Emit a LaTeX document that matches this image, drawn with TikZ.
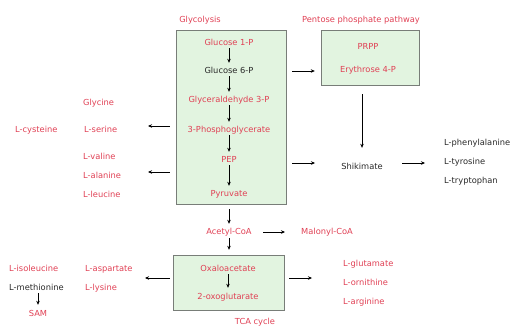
\documentclass[tikz,border=0pt]{standalone}
\usepackage{fontspec}
\setmainfont{DejaVu Sans}
\usetikzlibrary{arrows.meta}
\definecolor{tred}{RGB}{224,64,84}
\definecolor{tblk}{RGB}{40,40,40}
\definecolor{bfill}{RGB}{226,244,224}
\definecolor{bdraw}{RGB}{120,125,120}
\tikzset{
  lbl/.style={inner sep=0pt, text height=6pt, text depth=0pt, font=\fontsize{8.3}{9}\selectfont},
  rd/.style={lbl, text=tred},
  bk/.style={lbl, text=tblk},
  boxx/.style={draw=bdraw, fill=bfill, line width=0.8pt},
  arr/.style={-{Stealth[length=4pt,width=3.5pt]}, line width=0.6pt, draw=black},
}
\begin{document}
\begin{tikzpicture}[x=1pt,y=-1pt]
\useasboundingbox (0,0) rectangle (510,327);
% boxes
\draw[boxx] (176,30) rectangle (286,204);
\node[inner sep=0pt] (gbox) at (231,117) [minimum width=110pt, minimum height=174pt] {};
\draw[boxx] (321,30) rectangle (419,85);
\node[inner sep=0pt] (ppp) at (370,57.5) [minimum width=98pt, minimum height=55pt] {};
\draw[boxx] (173,255) rectangle (284,310);
\node[inner sep=0pt] (tca) at (228.5,282.5) [minimum width=111pt, minimum height=55pt] {};
% titles
\node[rd] (tglyc) at (200,19) {Glycolysis};
\node[rd] (tppp) at (361,19) {Pentose phosphate pathway};
\node[rd] (ttca) at (255,321.5) {TCA cycle};
% glycolysis
\node[rd] (g1p) at (229,42) {Glucose 1-P};
\node[bk] (g6p) at (229,70) {Glucose 6-P};
\node[rd] (gap) at (229,99) {Glyceraldehyde 3-P};
\node[rd] (pga) at (229,129) {3-Phosphoglycerate};
\node[rd] (pep) at (229,159) {PEP};
\node[rd] (pyr) at (229,193) {Pyruvate};
\draw[arr, shorten <=3pt, shorten >=4pt] (g1p) -- (g6p);
\draw[arr, shorten <=3pt, shorten >=4pt] (g6p) -- (gap);
\draw[arr, shorten <=3pt, shorten >=4pt] (gap) -- (pga);
\draw[arr, shorten <=3pt, shorten >=4pt] (pga) -- (pep);
\draw[arr, shorten <=3pt, shorten >=4pt] (pep) -- (pyr);
% PPP
\node[rd] (prpp) at (368,46) {PRPP};
\node[rd] (e4p) at (368,69) {Erythrose 4-P};
\draw[arr, shorten <=6pt, shorten >=6pt] (gbox.east |- 0,71) -- (ppp.west |- 0,71);
% shikimate
\node[bk] (shik) at (362,166) {Shikimate};
\draw[arr, shorten <=9pt, shorten >=15pt] (ppp.south -| shik) -- (shik.north);
\draw[arr, shorten <=6pt] (gbox.east |- 0,163) -- (315,163) coordinate (shin);
\node[bk, anchor=west] (phe) at (444,142) {L-phenylalanine};
\node[bk, anchor=west] (tyr) at (444,161) {L-tyrosine};
\node[bk, anchor=west] (trp) at (444,180) {L-tryptophan};
\draw[arr] (402,163) coordinate (shout) -- (425,163) coordinate (aroin);
% left amino acids
\node[rd, anchor=west] (gly) at (83,102) {Glycine};
\node[rd, anchor=west] (cys) at (15,129) {L-cysteine};
\node[rd, anchor=west] (ser) at (84,129) {L-serine};
\node[rd, anchor=west] (val) at (83,156) {L-valine};
\node[rd, anchor=west] (ala) at (83,175) {L-alanine};
\node[rd, anchor=west] (leu) at (83,194) {L-leucine};
\draw[arr, shorten <=6pt] (gbox.west |- 0,126) -- (148,126) coordinate (serin);
\draw[arr, shorten <=6pt] (gbox.west |- 0,172) -- (148,172) coordinate (alain);
% acetyl-CoA
\node[rd] (acoa) at (229,231) {Acetyl-CoA};
\node[rd, anchor=west] (mcoa) at (301,231) {Malonyl-CoA};
\draw[arr, shorten <=5pt, shorten >=4pt] (gbox.south -| acoa) -- (acoa.north);
\draw[arr, shorten <=4pt, shorten >=5pt] (acoa.south) -- (tca.north -| acoa);
\draw[arr, shorten >=16pt] (263,232) coordinate (acout) -- (mcoa.west |- 0,232);
% TCA
\node[rd] (oaa) at (228,268) {Oxaloacetate};
\node[rd] (akg) at (228,296) {2-oxoglutarate};
\draw[arr, shorten <=3pt, shorten >=5pt] (oaa) -- (akg);
\node[rd, anchor=west] (glu) at (343,263) {L-glutamate};
\node[rd, anchor=west] (orn) at (343,282) {L-ornithine};
\node[rd, anchor=west] (arg) at (343,301) {L-arginine};
\draw[arr, shorten <=5pt, shorten >=31pt] (tca.east |- 0,278) -- (orn.west |- 0,278);
\node[rd, anchor=west] (ile) at (9,268) {L-isoleucine};
\node[bk, anchor=west] (met) at (9,287) {L-methionine};
\node[rd, anchor=west] (asp) at (85,268) {L-aspartate};
\node[rd, anchor=west] (lys) at (85,287) {L-lysine};
\node[rd] (sam) at (38,313) {SAM};
\draw[arr, shorten <=3pt] (tca.west |- 0,278) -- (145,278) coordinate (aspin);
\draw[arr, shorten <=3pt, shorten >=5pt] (met.south -| sam) -- (sam.north);
\end{tikzpicture}
\end{document}
